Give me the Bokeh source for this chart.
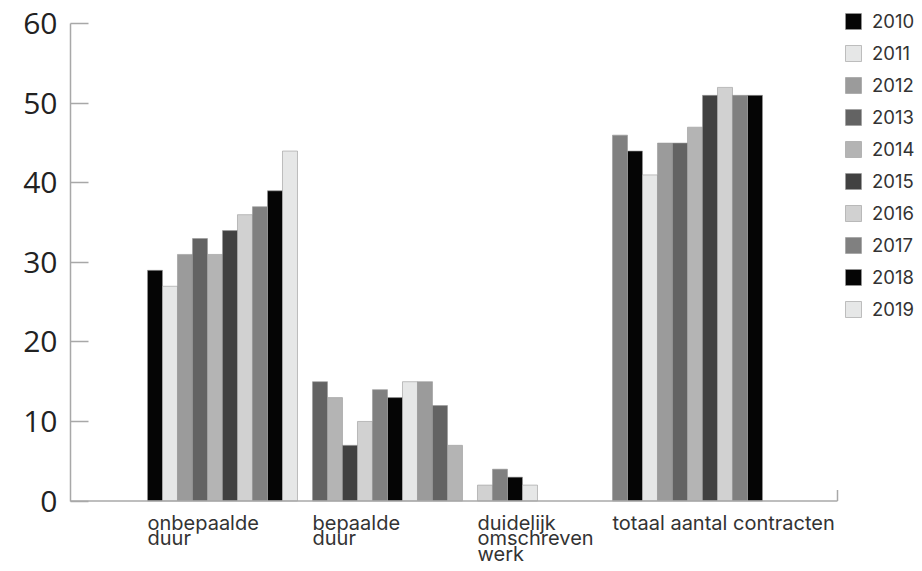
from bokeh.plotting import figure
from bokeh.models import ColumnDataSource, Legend, LegendItem, FixedTicker, Range1d
from bokeh.core.properties import value
from bokeh.embed import file_html
from bokeh.resources import INLINE

# ---------------- data ----------------
years = ["2010", "2011", "2012", "2013", "2014", "2015", "2016", "2017", "2018", "2019"]
categories = ["onbepaalde duur", "bepaalde duur", "duidelijk omschreven werk", "totaal aantal contracten"]
category_labels = ["onbepaalde\nduur", "bepaalde\nduur", "duidelijk\nomschreven\nwerk", "totaal aantal contracten"]
onbepaalde_duur = [29, 27, 31, 33, 31, 34, 36, 37, 39, 44]
bepaalde_duur = [15, 13, 7, 10, 14, 13, 15, 15, 12, 7]
duidelijk_omschreven_werk = [2, 4, 3, 2]
totaal_aantal_contracten = [46, 44, 41, 45, 45, 47, 51, 52, 51, 51]
y_ticks = [0, 10, 20, 30, 40, 50, 60]

series = [onbepaalde_duur, bepaalde_duur, duidelijk_omschreven_werk, totaal_aantal_contracten]

# ---------------- style / layout ----------------
palette = ["#050505", "#e6e7e7", "#9b9b9b", "#636363", "#b4b4b4", "#414141", "#d1d1d1", "#808080"]
gaps_after = [1, 1, 5]      # empty bar slots between groups
trailing_slots = 5
W, H = 918, 567
FONT = "Inter"

# bar slots: consecutive bars, colours cycling through the palette by slot
xs, tops, shade, group_starts = [], [], [], []
slot = 0
for gi, vals in enumerate(series):
    group_starts.append(slot)
    for v in vals:
        xs.append(slot)
        tops.append(v)
        shade.append(slot % len(palette))
        slot += 1
    if gi < len(gaps_after):
        slot += gaps_after[gi]
last_slot = xs[-1]

px_per_unit = 7.953
x_start, x_end = -5.633, 50.9
y_start, y_end = -8.36, 61.92

p = figure(width=W, height=H, output_backend="svg", toolbar_location=None,
           x_range=Range1d(x_start, x_end), y_range=Range1d(y_start, y_end),
           x_axis_location=None,
           min_border_left=70, min_border_right=0, min_border_top=8, min_border_bottom=0)
p.outline_line_color = None
p.xgrid.visible = False
p.ygrid.visible = False
p.background_fill_color = "white"

# y axis
ax = p.yaxis[0]
ax.bounds = (0, 60)
ax.ticker = FixedTicker(ticks=y_ticks)
ax.major_tick_in = 18
ax.major_tick_out = 0
ax.minor_tick_line_color = None
ax.axis_line_color = "#a8a8a8"
ax.axis_line_width = 1.5
ax.major_tick_line_color = "#a8a8a8"
ax.major_tick_line_width = 1.5
ax.major_label_text_font = "Open Sans"
ax.major_label_text_font_size = "30px"
ax.major_label_text_color = "#222222"
ax.major_label_standoff = 13

# bars, one renderer per shade of grey
shade_renderers = []
for k, col in enumerate(palette):
    sel = [i for i, s in enumerate(shade) if s == k]
    src = ColumnDataSource(dict(x=[xs[i] for i in sel], top=[tops[i] for i in sel]))
    r = p.vbar(x="x", top="top", bottom=0, width=1.0, source=src,
               fill_color=col, line_color="#9a9a9a", line_width=1, line_alpha=0.6)
    shade_renderers.append(r)

# x baseline with end tick
axis_end = last_slot + 0.5 + trailing_slots
p.segment(x0=[x_start], y0=[0], x1=[axis_end], y1=[0], line_color="#a8a8a8", line_width=1.5)
p.segment(x0=[axis_end], y0=[0], x1=[axis_end], y1=[11 / px_per_unit], line_color="#a8a8a8", line_width=1.5)

# category labels, left aligned at each group's first bar
label_x = [gs - 0.5 for gs in group_starts]
p.text(x=label_x, y=[-1.2] * len(label_x), text=category_labels,
       text_font=value(FONT), text_font_size="20px", text_color="#333333",
       text_align="left", text_baseline="top", text_line_height=0.66)

# legend
items = [LegendItem(label=yr, renderers=[shade_renderers[i % len(palette)]]) for i, yr in enumerate(years)]
legend = Legend(items=items, location=(773, 247), glyph_width=20, glyph_height=20,
                label_height=23, spacing=9, label_standoff=9,
                label_text_font=FONT, label_text_font_size="18.5px", label_text_color="#333333",
                padding=0, margin=0, border_line_alpha=0, background_fill_alpha=0)
p.add_layout(legend)

open("out.html", "w").write(file_html(p, INLINE))
